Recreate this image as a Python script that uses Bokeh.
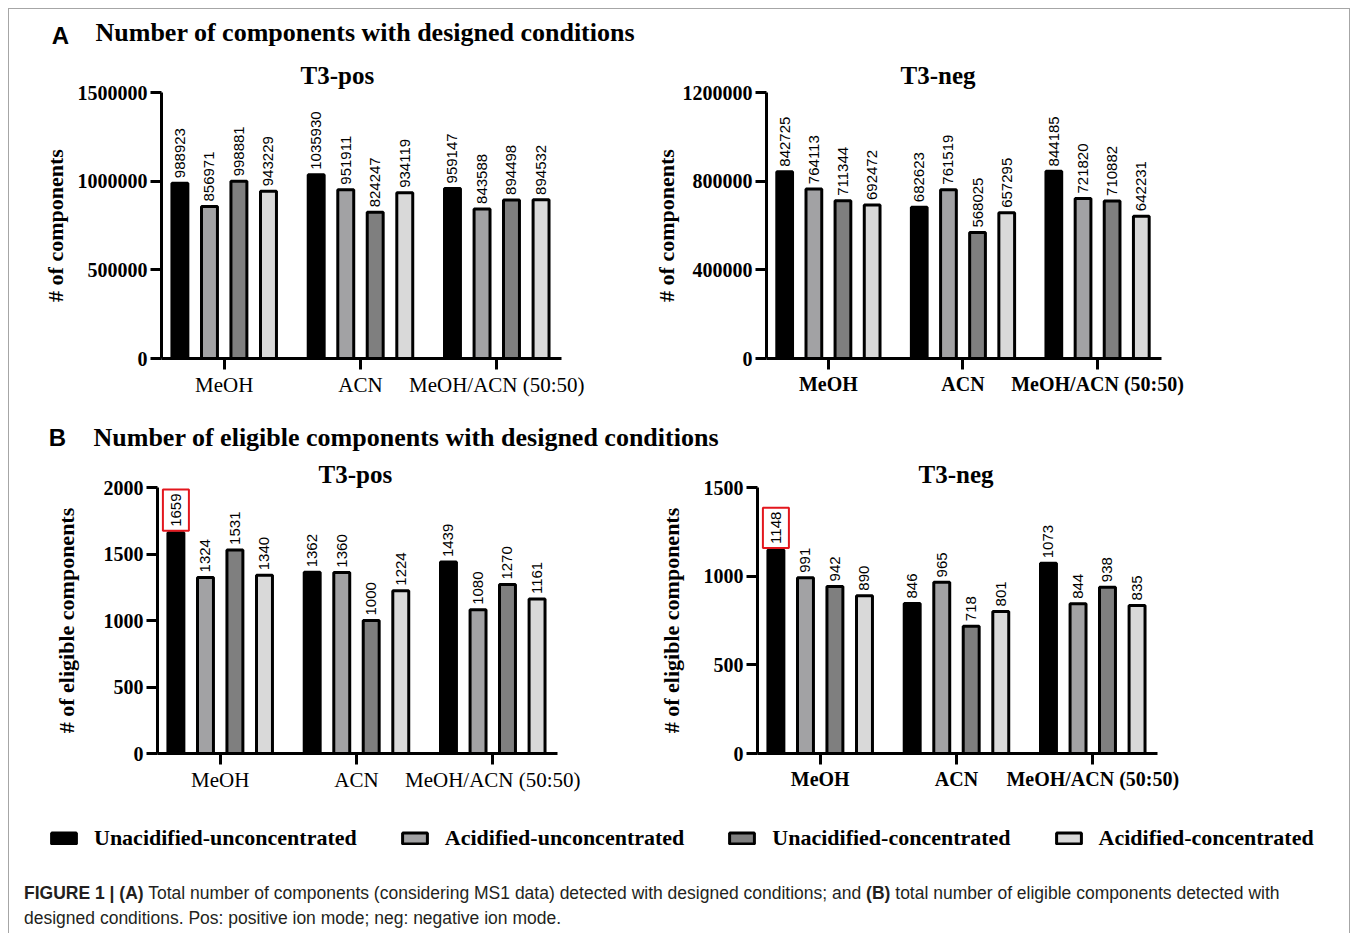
import math
from bokeh.plotting import figure
from bokeh.models import (ColumnDataSource, Range1d, FixedTicker, NumeralTickFormatter,
                          LabelSet, Label, Legend, LegendItem, Div, Title, Spacer)
from bokeh.layouts import column, row
from bokeh.transform import dodge
from bokeh.core.properties import value
from bokeh.embed import file_html
from bokeh.resources import INLINE

# ---------------- data ----------------
categories = ["MeOH", "ACN", "MeOH/ACN (50:50)"]
series = ["Unacidified-unconcentrated", "Acidified-unconcentrated",
          "Unacidified-concentrated", "Acidified-concentrated"]

apos_unacidified_unconcentrated = [988923, 1035930, 959147]
apos_acidified_unconcentrated = [856971, 951911, 843588]
apos_unacidified_concentrated = [998881, 824247, 894498]
apos_acidified_concentrated = [943229, 934119, 894532]

aneg_unacidified_unconcentrated = [842725, 682623, 844185]
aneg_acidified_unconcentrated = [764113, 761519, 721820]
aneg_unacidified_concentrated = [711344, 568025, 710882]
aneg_acidified_concentrated = [692472, 657295, 642231]

bpos_unacidified_unconcentrated = [1659, 1362, 1439]
bpos_acidified_unconcentrated = [1324, 1360, 1080]
bpos_unacidified_concentrated = [1531, 1000, 1270]
bpos_acidified_concentrated = [1340, 1224, 1161]

bneg_unacidified_unconcentrated = [1148, 846, 1073]
bneg_acidified_unconcentrated = [991, 965, 844]
bneg_unacidified_concentrated = [942, 718, 938]
bneg_acidified_concentrated = [890, 801, 835]

apos_ticks = [0, 500000, 1000000, 1500000]
aneg_ticks = [0, 400000, 800000, 1200000]
bpos_ticks = [0, 500, 1000, 1500, 2000]
bneg_ticks = [0, 500, 1000, 1500]

# (series index, category index) of the highlighted value
bpos_highlight = (0, 0)
bneg_highlight = (0, 0)

# ---------------- style ----------------
colors = ["#000000", "#a2a2a4", "#7f7f7f", "#d9d9d9"]
offsets = [-0.325, -0.108, 0.108, 0.325]
BAR_W = 0.117
SERIF = "Liberation Serif"
SANS = "Liberation Sans"
XR = (-0.46, 2.475)
FRAME_GRAY = "#a6a6a6"


def blank(width, height, xr, yr):
    f = figure(width=width, height=height, x_axis_type=None, y_axis_type=None,
               min_border=0, min_border_left=0, min_border_right=0,
               min_border_top=0, min_border_bottom=0, title=None,
               x_range=Range1d(*xr), y_range=Range1d(*yr),
               output_backend="svg", toolbar_location=None, tools="")
    f.outline_line_color = None
    f.grid.visible = False
    f.background_fill_color = "white"
    f.border_fill_color = "white"
    return f


def make_plot(width, height, bl, br, bt, bb, vals, yticks, title, t_off, t_stand,
              ylabel, lstand, bold_x, highlight=None):
    ttl = Title(text=title, align="left", offset=t_off, standoff=t_stand,
                text_font=SERIF, text_font_style="bold", text_font_size="25px",
                text_color="black")
    p = figure(width=width, height=height, min_border_left=bl, min_border_right=br,
               min_border_top=bt, min_border_bottom=bb, title=ttl,
               x_range=Range1d(*XR), y_range=Range1d(0, yticks[-1]),
               output_backend="svg", toolbar_location=None, tools="")
    p.outline_line_color = None
    p.grid.visible = False
    p.background_fill_color = "white"
    p.border_fill_color = "white"

    data = dict(xi=list(range(len(categories))))
    for i, v in enumerate(vals):
        data[f"s{i}"] = v
        txt = [str(x) for x in v]
        if highlight is not None and highlight[0] == i:
            txt[highlight[1]] = ""
        data[f"t{i}"] = txt
    src = ColumnDataSource(data)

    for i in range(len(vals)):
        p.vbar(x=dodge("xi", offsets[i]), top=f"s{i}", width=BAR_W, source=src,
               fill_color=colors[i], line_color="black", line_width=3)
        p.add_layout(LabelSet(x=dodge("xi", offsets[i]), y=f"s{i}", text=f"t{i}",
                              source=src, angle=math.pi / 2, y_offset=5,
                              text_align="left", text_baseline="middle",
                              text_font=value(SANS), text_font_size="15px",
                              text_color="black"))
    if highlight is not None:
        si, ci = highlight
        p.add_layout(Label(x=ci + offsets[si], y=vals[si][ci], text=str(vals[si][ci]),
                           angle=math.pi / 2, y_offset=2, padding=(4, 8),
                           text_align="left", text_baseline="middle",
                           text_font=SANS, text_font_size="15px", text_color="black",
                           border_line_color="#e3161d", border_line_width=2))

    for ax in (p.xaxis[0], p.yaxis[0]):
        ax.axis_line_width = 3
        ax.axis_line_color = "black"
        ax.major_tick_line_width = 3
        ax.major_tick_line_color = "black"
        ax.major_tick_in = 0
        ax.major_tick_out = 11
        ax.minor_tick_line_color = None
        ax.major_label_text_color = "black"
        ax.major_label_text_font = SERIF

    p.yaxis.ticker = FixedTicker(ticks=yticks)
    p.yaxis.formatter = NumeralTickFormatter(format="0")
    p.yaxis.major_label_text_font_style = "bold"
    p.yaxis.major_label_text_font_size = "20px"
    p.yaxis.major_label_standoff = 3
    p.yaxis.axis_label = ylabel
    p.yaxis.axis_label_standoff = lstand
    p.yaxis.axis_label_text_font = SERIF
    p.yaxis.axis_label_text_font_style = "bold"
    p.yaxis.axis_label_text_font_size = "22px"
    p.yaxis.axis_label_text_color = "black"

    p.xaxis.ticker = FixedTicker(ticks=list(range(len(categories))))
    p.xaxis.major_label_overrides = {i: c for i, c in enumerate(categories)}
    p.xaxis.major_label_text_font_size = "20px" if bold_x else "21px"
    p.xaxis.major_label_text_font_style = "bold" if bold_x else "normal"
    p.xaxis.major_label_standoff = 3
    return p


def header(width, height, letter, lx, ly, text, tx, ty):
    # ly / ty: distance from the top of the strip to the visual centre of the text
    h = blank(width, height, (0, width), (0, height))
    h.add_layout(Label(x=lx, y=height - ly, text=letter, text_align="center",
                       text_baseline="middle", text_font=SANS, text_font_style="bold",
                       text_font_size="24px", text_color="black"))
    h.add_layout(Label(x=tx, y=height - ty, text=text, text_align="left",
                       text_baseline="middle", text_font=SERIF, text_font_style="bold",
                       text_font_size="26px", text_color="black"))
    return h


# main block starts at page x = 10, y = 9
W = 1337
WL, WR = 640, 697

hdrA = header(W, 46, "A", 50, 26, "Number of components with designed conditions", 85, 23)

apos = make_plot(WL, 355, 151, 89, 37, 52,
                 [apos_unacidified_unconcentrated, apos_acidified_unconcentrated,
                  apos_unacidified_concentrated, apos_acidified_concentrated],
                 apos_ticks, "T3-pos", 139, 8, "# of components", 7, False)
aneg = make_plot(WR, 355, 111, 186, 37, 52,
                 [aneg_unacidified_unconcentrated, aneg_acidified_unconcentrated,
                  aneg_unacidified_concentrated, aneg_acidified_concentrated],
                 aneg_ticks, "T3-neg", 134, 8, "# of components", 1, True)

hdrB = header(W, 45, "B", 47, 27, "Number of eligible components with designed conditions", 83, 27)

bpos = make_plot(WL, 350, 147, 93, 32, 52,
                 [bpos_unacidified_unconcentrated, bpos_acidified_unconcentrated,
                  bpos_unacidified_concentrated, bpos_acidified_concentrated],
                 bpos_ticks, "T3-pos", 161, 0, "# of eligible components", 22, False,
                 highlight=bpos_highlight)
bneg = make_plot(WR, 350, 107, 190, 32, 52,
                 [bneg_unacidified_unconcentrated, bneg_acidified_unconcentrated,
                  bneg_unacidified_concentrated, bneg_acidified_concentrated],
                 bneg_ticks, "T3-neg", 161, 0, "# of eligible components", 17, True,
                 highlight=bneg_highlight)

# legend strip: the renderers only carry the series styles and are hidden
lg = blank(W, 65, (0, 1), (0, 1))
items = []
for i, name in enumerate(series):
    r = lg.vbar(x=[0.5], top=[0.5], width=0.1, fill_color=colors[i],
                line_color="black", line_width=3)
    r.visible = False
    items.append(LegendItem(label=name, renderers=[r]))
legend = Legend(items=items, orientation="horizontal", location=(38, 19.5),
                glyph_width=31, glyph_height=14, label_standoff=15, spacing=42,
                padding=0, margin=0, border_line_color=None, background_fill_alpha=0,
                inactive_fill_alpha=0, click_policy="none",
                label_text_font=SERIF, label_text_font_style="bold",
                label_text_font_size="22px", label_text_color="black", label_height=14)
lg.add_layout(legend)

caption = Div(
    text=('<div style="padding:11px 0 0 14px; font-family:\'Liberation Sans\'; font-size:17.5px; '
          'line-height:25px; color:#231f20; white-space:nowrap;">'
          '<b>FIGURE 1 | (A)</b> Total number of components (considering MS1 data) detected with '
          'designed conditions; and <b>(B)</b> total number of eligible components detected with<br>'
          'designed conditions. Pos: positive ion mode; neg: negative ion mode.</div>'),
    width=W, height=56, margin=(0, 0, 0, 0))

main = column(hdrA, row(apos, aneg), hdrB, row(bpos, bneg), lg, caption)

# thin grey frame around the figure (top, left, right)
LINE_STYLE = {"background-color": FRAME_GRAY}
top_line = Div(text="", width=1342, height=1, margin=(0, 0, 0, 0), styles=LINE_STYLE)
left_line = Div(text="", width=1, height=924, margin=(0, 0, 0, 0), styles=LINE_STYLE)
right_line = Div(text="", width=1, height=924, margin=(0, 0, 0, 0), styles=LINE_STYLE)

layout = column(
    Spacer(width=1, height=8),
    row(Spacer(width=8, height=1), top_line),
    row(Spacer(width=8, height=1), left_line, Spacer(width=1, height=1), main,
        Spacer(width=2, height=1), right_line),
)

open("out.html", "w").write(file_html(layout, INLINE))
